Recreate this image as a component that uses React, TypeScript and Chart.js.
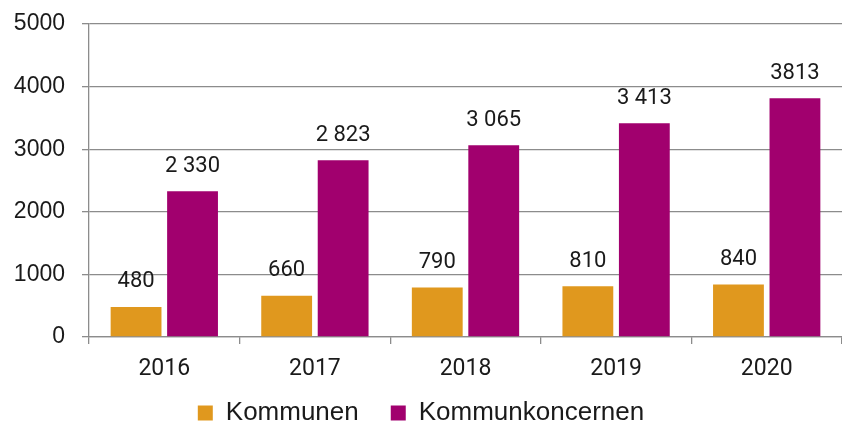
import { useEffect, useRef } from "react";
import { Chart, registerables } from "chart.js";

Chart.register(...registerables);

const categories = ["2016", "2017", "2018", "2019", "2020"];
const kommunen = [480, 660, 790, 810, 840];
const koncernen = [2330, 2823, 3065, 3413, 3813];
const kommunenLabels = ["480", "660", "790", "810", "840"];
const koncernenLabels = ["2 330", "2 823", "3 065", "3 413", "3813"];
const seriesNames = ["Kommunen", "Kommunkoncernen"];
const yMin = 0;
const yMax = 5000;
const yStep = 1000;

const ORANGE = "#E0981E";
const PURPLE = "#A1006E";
const GRID = "#8c8c8c";
const TEXT = "#1a1a1a";

const valueLabelPlugin = {
  id: "valueLabels",
  afterDatasetsDraw(chart: any) {
    const ctx = chart.ctx;
    const labelSets = [kommunenLabels, koncernenLabels];
    ctx.save();
    ctx.font = "22px Roboto";
    ctx.fillStyle = TEXT;
    ctx.textAlign = "center";
    ctx.textBaseline = "middle";
    chart.data.datasets.forEach((_: any, di: number) => {
      const meta = chart.getDatasetMeta(di);
      meta.data.forEach((el: any, i: number) => {
        ctx.fillText(labelSets[di][i], el.x, el.y - 25);
      });
    });
    ctx.restore();
  },
};

export default function App() {
  const ref = useRef<HTMLCanvasElement | null>(null);
  useEffect(() => {
    if (!ref.current) return;
    const chart = new Chart(ref.current, {
      type: "bar",
      data: {
        labels: categories,
        datasets: [
          {
            label: seriesNames[0],
            data: kommunen,
            backgroundColor: ORANGE,
            barPercentage: 0.9,
            categoryPercentage: 0.75,
          },
          {
            label: seriesNames[1],
            data: koncernen,
            backgroundColor: PURPLE,
            barPercentage: 0.9,
            categoryPercentage: 0.75,
          },
        ],
      },
      options: {
        animation: false,
        responsive: true,
        maintainAspectRatio: false,
        layout: { padding: { top: 24, left: 0, right: 0, bottom: -15 } },
        plugins: {
          tooltip: { enabled: false },
          legend: {
            position: "bottom",
            labels: {
              boxWidth: 15,
              boxHeight: 15,
              padding: 32,
              color: TEXT,
              font: { family: "'Liberation Sans', Arial, sans-serif", size: 26 },
            },
          },
        },
        scales: {
          x: {
            grid: {
              drawOnChartArea: false,
              drawTicks: true,
              tickLength: 7,
              color: GRID,
              lineWidth: 1.3,
              offset: true,
            },
            border: { display: true, color: GRID, width: 1.3 },
            ticks: {
              color: TEXT,
              padding: 11,
              font: { family: "Roboto", size: 23 },
            },
            afterFit: (s: any) => {
              s.height = 31;
              s._computeLabelArea = () => undefined;
            },
          },
          y: {
            min: yMin,
            max: yMax,
            ticks: {
              stepSize: yStep,
              color: TEXT,
              padding: 17,
              font: { family: "'Liberation Sans', Arial, sans-serif", size: 23 },
              callback: (v: any) => String(v),
            },
            grid: {
              color: GRID,
              lineWidth: 1.3,
              tickLength: 7,
              tickColor: GRID,
            },
            border: { display: true, color: GRID, width: 1.3 },
            afterFit: (s: any) => {
              s.width = 89;
              s.paddingTop = 0;
              s.paddingBottom = 0;
            },
          },
        },
      },
      plugins: [valueLabelPlugin],
    });
    return () => chart.destroy();
  }, []);
  return (
    <div style={{ position: "absolute", left: 0, top: 0, width: 842, height: 421, background: "#fff" }}>
      <canvas ref={ref} />
    </div>
  );
}
